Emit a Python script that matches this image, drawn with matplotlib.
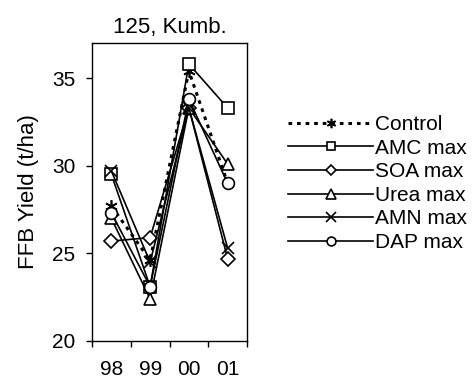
import matplotlib as mpl
import matplotlib.pyplot as plt

mpl.rcParams.update({
    'font.family': 'sans-serif',
    'font.sans-serif': ['Liberation Sans', 'DejaVu Sans'],
    'font.size': 15,
    'axes.linewidth': 1.0,
})

YEARS = ['98', '99', '00', '01']
SERIES = ['Control', 'AMC max', 'SOA max', 'Urea max', 'AMN max', 'DAP max']
CONTROL = [27.7, 24.6, 35.4, 29.0]
AMC_MAX = [29.5, 23.1, 35.8, 33.3]
SOA_MAX = [25.7, 25.9, 33.3, 24.7]
UREA_MAX = [27.0, 22.4, 33.3, 30.1]
AMN_MAX = [29.7, 24.5, 33.3, 25.3]
DAP_MAX = [27.3, 23.1, 33.8, 29.0]

STYLES = {
    'Control':  dict(marker=(6, 2, 0), ls=(0, (1.2, 1.6)), lw=2.2, ms=9),
    'AMC max':  dict(marker='s', ls='-', lw=1.2, ms=8),
    'SOA max':  dict(marker='D', ls='-', lw=1.2, ms=7),
    'Urea max': dict(marker='^', ls='-', lw=1.2, ms=9),
    'AMN max':  dict(marker='x', ls='-', lw=1.2, ms=9),
    'DAP max':  dict(marker='o', ls='-', lw=1.2, ms=8.5),
}

fig = plt.figure(figsize=(4.75, 3.81), dpi=100)
ax = fig.add_axes([0.1937, 0.105, 0.3263, 0.782])

x = list(range(len(YEARS)))
values = [CONTROL, AMC_MAX, SOA_MAX, UREA_MAX, AMN_MAX, DAP_MAX]
handles = []
for name, vals in zip(SERIES, values):
    st = STYLES[name]
    h, = ax.plot(x, vals, color='black', linestyle=st['ls'], linewidth=st['lw'],
                 marker=st['marker'], markersize=st['ms'],
                 markerfacecolor='white', markeredgecolor='black',
                 markeredgewidth=1.2, label=name)
    handles.append(h)

ax.set_xlim(-0.5, 3.5)
ax.set_ylim(20, 37)
ax.set_yticks([20, 25, 30, 35])
ax.tick_params(axis='y', direction='out', length=4, width=1.0, pad=8)

# category axis: tick marks between categories, labels centred
ax.set_xticks([-0.5, 0.5, 1.5, 2.5, 3.5])
ax.set_xticklabels([])
ax.set_xticks(x, minor=True)
ax.set_xticklabels(YEARS, minor=True)
ax.tick_params(axis='x', which='major', direction='out', length=4, width=1.0)
ax.tick_params(axis='x', which='minor', length=0, pad=14)

ax.set_title('125, Kumb.', fontsize=16, pad=7)
ax.set_ylabel('FFB Yield (t/ha)', fontsize=16, labelpad=9)

fig.legend(handles=handles, loc='upper left', bbox_to_anchor=(0.606, 0.698),
           frameon=False, handlelength=4.1, handletextpad=0.1,
           labelspacing=0.22, borderpad=0, borderaxespad=0,
           markerscale=0.75, fontsize=15)

fig.savefig('out.png', dpi=100)
